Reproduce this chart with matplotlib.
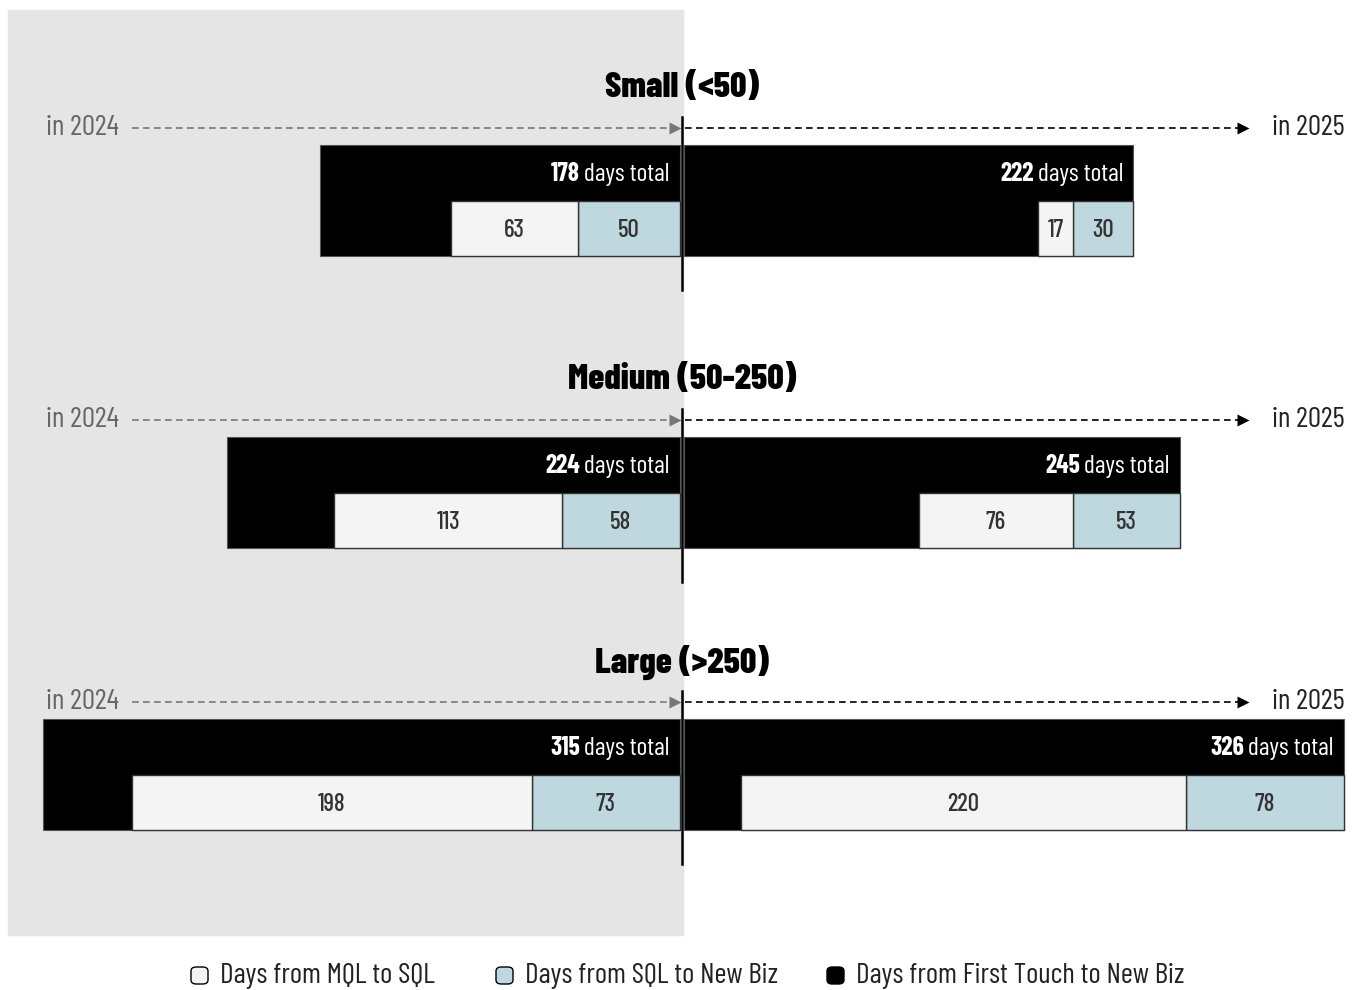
import numpy as np
import matplotlib.pyplot as plt
from matplotlib.patches import Rectangle, FancyBboxPatch

plt.rcParams['font.family'] = ['Barlow Condensed', 'Roboto Condensed', 'DejaVu Sans']

# company size groups
groups = ["Small (<50)", "Medium (50-250)", "Large (>250)"]

# 2024 (drawn to the left of the centre line)
total_2024 = [178, 224, 315]
mql_sql_2024 = [63, 113, 198]
sql_biz_2024 = [50, 58, 73]

# 2025 (drawn to the right)
total_2025 = [222, 245, 326]
mql_sql_2025 = [17, 76, 220]
sql_biz_2025 = [30, 53, 78]

legend_labels = ["Days from MQL to SQL", "Days from SQL to New Biz",
                 "Days from First Touch to New Biz"]

W, H = 1357, 990
S = 2.022          # pixels per day
CX = 682           # centre line, pixels
GAP = 1.2          # days between the two halves

c_black = "#000000"
c_white = "#f4f4f4"
c_blue = "#bfd8e0"
c_edge = "#333333"

fig = plt.figure(figsize=(W / 100, H / 100), dpi=100)
ax = fig.add_axes([0, 0, 1, 1])
ax.set_xlim(-CX / S, (W - CX) / S)
ax.set_ylim(H, 0)
ax.axis('off')

# shaded half for the previous year
fig.add_artist(Rectangle((8 / W, (H - 935) / H), (683 - 8) / W, 925 / H,
                         transform=fig.transFigure, color="#e5e5e5", zorder=-1))


def px(x):
    # pixel column -> day units on the x axis
    return (x - CX) / S


bar_tops = [145, 437, 719]
bar_h = 111
half = 55
num_kw = dict(ha='center', va='center', fontsize=18, fontweight='medium',
              color='#333333', zorder=4)

for i, g in enumerate(groups):
    top = bar_tops[i]
    mid = top + half + 1

    ax.text(0, top - 57, g, ha='center', va='center', fontsize=26,
            fontweight='heavy', color='black')

    # year arrows
    ya = top - 17
    ax.text(px(46), ya, "in 2024", ha='left', va='center', fontsize=21,
            color='#666666')
    ax.plot([px(132), px(671)], [ya, ya], ls=(0, (4, 2.6)), lw=1.2,
            color='#777777')
    ax.plot(px(675), ya, marker='>', ms=9, color='#777777', mec='none')
    ax.plot([px(685), px(1238)], [ya, ya], ls=(0, (4, 2.6)), lw=1.2,
            color='black')
    ax.plot(px(1243), ya, marker='>', ms=8, color='black', mec='none')
    ax.text(px(1272), ya, "in 2025", ha='left', va='center', fontsize=21,
            color='#222222')

    # 2024: totals and stages, growing leftwards from the centre
    t = total_2024[i]
    ax.barh(top + bar_h / 2, -t, left=-GAP, height=bar_h, color=c_black,
            edgecolor='#555555', lw=0.8, zorder=2)
    b = sql_biz_2024[i]
    m = mql_sql_2024[i]
    yb = mid + half / 2
    ax.barh(yb, -b, left=-GAP, height=half, color=c_blue, edgecolor=c_edge,
            lw=1, zorder=3)
    ax.barh(yb, -m, left=-GAP - b, height=half, color=c_white,
            edgecolor=c_edge, lw=1, zorder=3)
    ax.text(-GAP - b / 2, yb + 2, str(b), **num_kw)
    ax.text(-GAP - b - m / 2, yb + 2, str(m), **num_kw)
    lbl = ax.text(-GAP - 10 / S, top + 29, "days total", ha='right',
                  va='center', fontsize=18.5, color='white', zorder=4)
    ax.annotate(str(t), xy=(0, 0.5), xycoords=lbl, xytext=(-3, 0),
                textcoords='offset points', ha='right', va='center',
                fontsize=18.5, fontweight='bold', color='white', zorder=4)

    # 2025: growing rightwards
    t = total_2025[i]
    ax.barh(top + bar_h / 2, t, left=GAP, height=bar_h, color=c_black,
            edgecolor='#555555', lw=0.8, zorder=2)
    b = sql_biz_2025[i]
    m = mql_sql_2025[i]
    end = GAP + t
    ax.barh(yb, -b, left=end, height=half, color=c_blue, edgecolor=c_edge,
            lw=1, zorder=3)
    ax.barh(yb, -m, left=end - b, height=half, color=c_white,
            edgecolor=c_edge, lw=1, zorder=3)
    ax.text(end - b / 2, yb + 2, str(b), **num_kw)
    ax.text(end - b - m / 2, yb + 2, str(m), **num_kw)
    lbl = ax.text(end - 10 / S, top + 29, "days total", ha='right',
                  va='center', fontsize=18.5, color='white', zorder=4)
    ax.annotate(str(t), xy=(0, 0.5), xycoords=lbl, xytext=(-3, 0),
                textcoords='offset points', ha='right', va='center',
                fontsize=18.5, fontweight='bold', color='white', zorder=4)

    # centre divider
    ax.plot([0, 0], [top - 28, top + bar_h + 34], color='black', lw=1.8,
            zorder=5)

# legend along the bottom, rounded swatches
leg_x = [191, 496, 827]
leg_col = [c_white, c_blue, c_black]
for x, c, lab in zip(leg_x, leg_col, legend_labels):
    fig.add_artist(FancyBboxPatch((x / W, (H - 984) / H), 17 / W, 17 / H,
                                  boxstyle="round,pad=0,rounding_size=0.004",
                                  transform=fig.transFigure, facecolor=c,
                                  edgecolor='black', lw=1))
    fig.text((x + 29) / W, (H - 976) / H, lab, ha='left', va='center',
             fontsize=21, color='#222222')

fig.savefig("out.png", dpi=100)
